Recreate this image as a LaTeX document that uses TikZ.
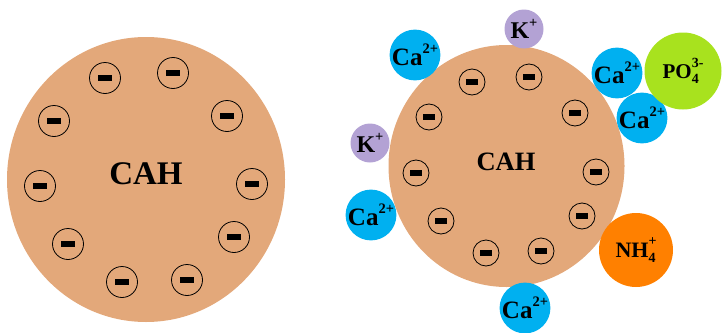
\documentclass[tikz,border=0pt]{standalone}
\usepackage{fontspec}
\newfontfamily\tnr{LiberationSerif-Bold.ttf}
\usetikzlibrary{shapes.geometric}
\definecolor{cahbrown}{RGB}{227,168,122}
\definecolor{cacyan}{RGB}{0,176,240}
\definecolor{kpurple}{RGB}{179,162,212}
\definecolor{pogreen}{RGB}{168,226,30}
\definecolor{nhorange}{RGB}{255,128,0}
\newcommand\sps[2]{{\fontsize{14}{14}\selectfont\setbox0\hbox{#1}\setbox2\hbox{#2}%
  \ifdim\wd0>\wd2 \rlap{\raisebox{-0.35em}{#2}}\raisebox{0.8em}{#1}%
  \else\rlap{\raisebox{0.8em}{#1}}\raisebox{-0.35em}{#2}\fi}}
\newcommand\supr[1]{{\fontsize{14.5}{14.5}\selectfont\raisebox{0.8em}{#1}}}
\begin{document}
\begin{tikzpicture}[x=1pt,y=-1pt,
  particle/.style={ellipse,fill=cahbrown,inner sep=0pt},
  minusA/.style={circle,draw=black,line width=0.8pt,minimum size=31pt,inner sep=0pt},
  minusB/.style={circle,draw=black,line width=0.8pt,minimum size=26pt,inner sep=0pt},
  ion/.style={circle,inner sep=0pt,font=\tnr\fontsize{25}{25}\selectfont},
  caion/.style={ion,fill=cacyan,minimum size=48pt},
  kion/.style={ion,fill=kpurple,minimum size=39pt,font=\tnr\fontsize{24}{24}\selectfont},
]
\useasboundingbox (0,0) rectangle (722,332);
% left particle
\node[particle,minimum width=278pt,minimum height=285pt] (L) at (146,179.5) {};
\node[font=\tnr\fontsize{33}{33}\selectfont] (Ltxt) at (146,174) {CAH};
\foreach \n/\x/\y in {1/105/78,2/173/73,3/227/116,4/252/184,5/234/237,6/187/280,7/122/282,8/68/244,9/40/186,10/54/121}
  \node[minusA] (La\n) at (\x,\y) {\rule{14pt}{5.5pt}};
% right particle
\node[particle,minimum width=236pt,minimum height=242pt] (R) at (506.5,166) {};
\node[font=\tnr\fontsize{26.5}{26.5}\selectfont] (Rtxt) at (506,162) {CAH};
\foreach \n/\x/\y in {1/472/82,2/529/77,3/575/113,4/596/172,5/582/216,6/541/251,7/486/253,8/441/221,9/416/173,10/429/117}
  \node[minusB] (Rb\n) at (\x,\y) {\rule{12pt}{5.5pt}};
% ions
\node[kion] (K1) at (524,29) {K\supr{+}};
\node[kion] (K2) at (370,143) {K\supr{+}};
\node[caion] (Ca1) at (415,55) {Ca\supr{2+}};
\node[caion] (Ca2) at (617,73) {Ca\supr{2+}};
\node[caion] (Ca3) at (642,118) {Ca\supr{2+}};
\node[caion] (Ca4) at (371,215) {Ca\supr{2+}};
\node[caion] (Ca5) at (525,308) {Ca\supr{2+}};
\node[ion,fill=pogreen,minimum size=77pt,font=\tnr\fontsize{21}{21}\selectfont] (PO) at (683,71) {PO\sps{3-}{4}};
\node[ion,fill=nhorange,minimum size=74pt,font=\tnr\fontsize{22}{22}\selectfont] (NH) at (636,250) {NH\sps{+}{4}};
\end{tikzpicture}
\end{document}
